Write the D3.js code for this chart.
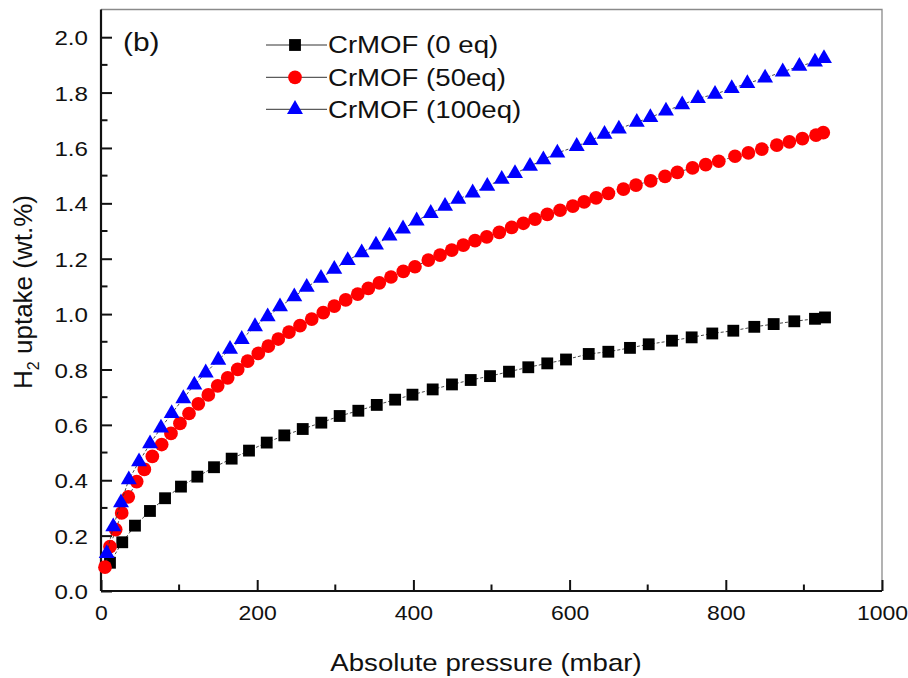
<!DOCTYPE html>
<html>
<head>
<meta charset="utf-8">
<script src="https://cdn.jsdelivr.net/npm/d3@7"></script>
<style>
  html, body { margin: 0; padding: 0; background: #fff; }
  svg text { font-family: Arial, "Liberation Sans", sans-serif; fill: #111; }
</style>
</head>
<body>
<svg id="chart" width="908" height="678"></svg>
<script>
// ---- data ----
const seriesNames = ["CrMOF (0 eq)", "CrMOF (50eq)", "CrMOF (100eq)"];

const pressure0 = [11.5, 27.2, 43.5, 62.7, 82.0, 102.4, 123.3, 144.7, 167.3, 189.5, 212.2, 234.7, 258.3, 282.1, 305.6, 329.5, 353.1, 376.6, 398.8, 424.7, 449.4, 473.4, 498.1, 522.4, 547.1, 571.4, 595.4, 624.5, 649.6, 677.3, 701.3, 731.1, 756.3, 782.7, 809.6, 836.5, 861.3, 887.7, 914.2, 927.0];
const uptake0 = [0.102, 0.176, 0.236, 0.289, 0.335, 0.377, 0.413, 0.447, 0.478, 0.507, 0.536, 0.562, 0.585, 0.608, 0.632, 0.651, 0.672, 0.691, 0.709, 0.728, 0.746, 0.762, 0.776, 0.792, 0.808, 0.822, 0.836, 0.856, 0.864, 0.878, 0.891, 0.904, 0.916, 0.930, 0.940, 0.954, 0.964, 0.974, 0.983, 0.988];

const pressure50 = [5.1, 11.5, 18.8, 26.5, 34.9, 45.7, 55.5, 65.7, 77.7, 89.6, 101.1, 112.7, 124.6, 137.4, 149.4, 162.2, 175.0, 187.8, 201.4, 214.2, 227.0, 240.7, 254.8, 269.8, 284.6, 298.7, 313.3, 328.7, 342.3, 356.4, 371.3, 387.1, 402.0, 419.1, 434.1, 449.1, 463.9, 478.9, 493.9, 510.0, 525.9, 540.8, 555.7, 571.5, 587.8, 604.1, 618.6, 633.9, 649.7, 668.9, 685.0, 703.8, 722.2, 738.0, 757.4, 774.3, 791.0, 811.8, 828.9, 846.1, 865.3, 881.4, 898.1, 915.5, 924.8];
const uptake50 = [0.086, 0.160, 0.222, 0.282, 0.340, 0.395, 0.439, 0.486, 0.529, 0.569, 0.605, 0.641, 0.676, 0.708, 0.741, 0.770, 0.800, 0.830, 0.858, 0.884, 0.910, 0.935, 0.958, 0.982, 1.005, 1.029, 1.051, 1.072, 1.093, 1.113, 1.134, 1.154, 1.171, 1.195, 1.213, 1.231, 1.249, 1.265, 1.279, 1.295, 1.313, 1.328, 1.343, 1.360, 1.375, 1.390, 1.405, 1.420, 1.436, 1.451, 1.466, 1.481, 1.497, 1.512, 1.528, 1.540, 1.552, 1.570, 1.582, 1.596, 1.610, 1.622, 1.634, 1.646, 1.655];

const pressure100 = [7.3, 15.7, 25.6, 35.6, 48.7, 62.8, 76.8, 90.5, 105.4, 119.5, 134.1, 150.2, 165.2, 180.2, 197.2, 213.4, 229.2, 247.5, 263.4, 281.7, 298.7, 315.9, 333.8, 352.1, 369.4, 386.7, 404.2, 422.2, 440.5, 457.5, 475.9, 494.6, 513.1, 530.1, 549.3, 566.4, 584.3, 609.1, 626.5, 644.7, 663.1, 686.0, 703.4, 723.4, 744.2, 764.4, 786.2, 807.6, 827.6, 850.3, 872.9, 894.2, 914.2, 925.7];
const uptake100 = [0.136, 0.232, 0.319, 0.402, 0.467, 0.532, 0.589, 0.641, 0.695, 0.744, 0.788, 0.834, 0.873, 0.909, 0.955, 0.991, 1.027, 1.063, 1.097, 1.130, 1.162, 1.194, 1.222, 1.250, 1.282, 1.308, 1.337, 1.364, 1.390, 1.415, 1.438, 1.462, 1.487, 1.508, 1.534, 1.558, 1.582, 1.606, 1.627, 1.650, 1.669, 1.693, 1.710, 1.734, 1.756, 1.779, 1.794, 1.815, 1.833, 1.853, 1.875, 1.895, 1.911, 1.923];

const xMajorTicks = [0, 200, 400, 600, 800, 1000];
const yMajorTicks = [0.0, 0.2, 0.4, 0.6, 0.8, 1.0, 1.2, 1.4, 1.6, 1.8, 2.0];

const xTitle = "Absolute pressure (mbar)";
const panelLabel = "(b)";

// ---- layout ----
const svg = d3.select("#chart");
const L = 101, R = 882, T = 9.5, B = 591;
const SX = 1.15; // horizontal stretch of the lettering in the reference
const x = d3.scaleLinear().domain([0, 1000]).range([L, R]);
const y = d3.scaleLinear().domain([0, 2.1]).range([B, T]);

// frame (top & right, thin grey)
svg.append("path")
  .attr("d", `M${L},${T}H${R}V${B}`)
  .attr("fill", "none").attr("stroke", "#8a8a8a").attr("stroke-width", 1.3);

// x axis
const xMinor = d3.range(100, 1000, 200);
const gx = svg.append("g").attr("transform", `translate(0,${B})`);
gx.call(d3.axisBottom(x).tickValues(xMajorTicks).tickSize(-11).tickPadding(0).tickFormat(d3.format("d")));
gx.selectAll(".tick text").remove();
gx.append("g").call(g => g.selectAll("line").data(xMinor).enter().append("line")
  .attr("x1", d => x(d)).attr("x2", d => x(d)).attr("y1", 0).attr("y2", -6.5));
gx.selectAll(".tick")
  .append("text").attr("transform", `translate(0,29) scale(${SX},1)`).attr("text-anchor", "middle")
  .style("font-size", "20px").text(d => d3.format("d")(d));

// y axis
const yMinor = d3.range(0.1, 2.05, 0.2);
const gy = svg.append("g").attr("transform", `translate(${L},0)`);
gy.call(d3.axisLeft(y).tickValues(yMajorTicks).tickSize(-11).tickFormat(d3.format(".1f")));
gy.selectAll(".tick text").remove();
gy.append("g").call(g => g.selectAll("line").data(yMinor).enter().append("line")
  .attr("y1", d => y(d)).attr("y2", d => y(d)).attr("x1", 0).attr("x2", 6.5));
gy.selectAll(".tick")
  .append("text").attr("transform", `translate(-13,0) scale(${SX},1)`).attr("dy", "0.36em").attr("text-anchor", "end")
  .style("font-size", "21px").text(d => d3.format(".1f")(d));

[gx, gy].forEach(g => {
  g.select(".domain").attr("stroke", "#111").attr("stroke-width", 2.2);
  g.selectAll("line").attr("stroke", "#111").attr("stroke-width", 2);
});
gx.select(".domain").attr("d", `M${L},0H${R}`);
gy.select(".domain").attr("d", `M0,${B}V${T}`);

// titles
svg.append("text").attr("transform", `translate(486,671) scale(${SX},1)`)
  .attr("text-anchor", "middle").style("font-size", "24px").text(xTitle);

const yt = svg.append("text")
  .attr("transform", `translate(32,292) rotate(-90)`)
  .attr("text-anchor", "middle").style("font-size", "26px");
yt.append("tspan").text("H");
yt.append("tspan").attr("dy", 7).style("font-size", "16px").text("2");
yt.append("tspan").attr("dy", -7).text(" uptake (wt.%)");

svg.append("text").attr("transform", `translate(123,51) scale(${SX},1)`).style("font-size", "26px").text(panelLabel);

// ---- series ----
const series = [
  { name: seriesNames[0], p: pressure0, u: uptake0, color: "#000000", sym: d3.symbolSquare, size: 140 },
  { name: seriesNames[1], p: pressure50, u: uptake50, color: "#ff0000", sym: d3.symbolCircle, size: 148 },
  { name: seriesNames[2], p: pressure100, u: uptake100, color: "#0000ff", sym: d3.symbolTriangle, size: 110 }
];

const line = d3.line().x(d => x(d[0])).y(d => y(d[1]));
series.forEach(s => {
  const pts = s.p.map((p, i) => [p, s.u[i]]);
  svg.append("path").datum(pts).attr("d", line)
    .attr("fill", "none").attr("stroke", "#333").attr("stroke-width", 0.9)
    .attr("stroke-dasharray", "3,2");
  svg.append("g").selectAll("path").data(pts).enter().append("path")
    .attr("transform", d => `translate(${x(d[0])},${y(d[1])})`)
    .attr("d", d3.symbol().type(s.sym).size(s.size))
    .attr("fill", s.color);
});

// ---- legend ----
const legRows = [45, 77.3, 109.3];
series.forEach((s, i) => {
  const g = svg.append("g").attr("transform", `translate(0,${legRows[i]})`);
  g.append("line").attr("x1", 266).attr("x2", 327).attr("y1", 0).attr("y2", 0)
    .attr("stroke", "#333").attr("stroke-width", 1);
  g.append("path").attr("transform", "translate(295,0)")
    .attr("d", d3.symbol().type(s.sym).size(s.size)).attr("fill", s.color);
  g.append("text").attr("transform", `translate(328,0) scale(${SX},1)`).attr("dy", "0.35em")
    .style("font-size", "24px").text(s.name);
});
</script>
</body>
</html>
